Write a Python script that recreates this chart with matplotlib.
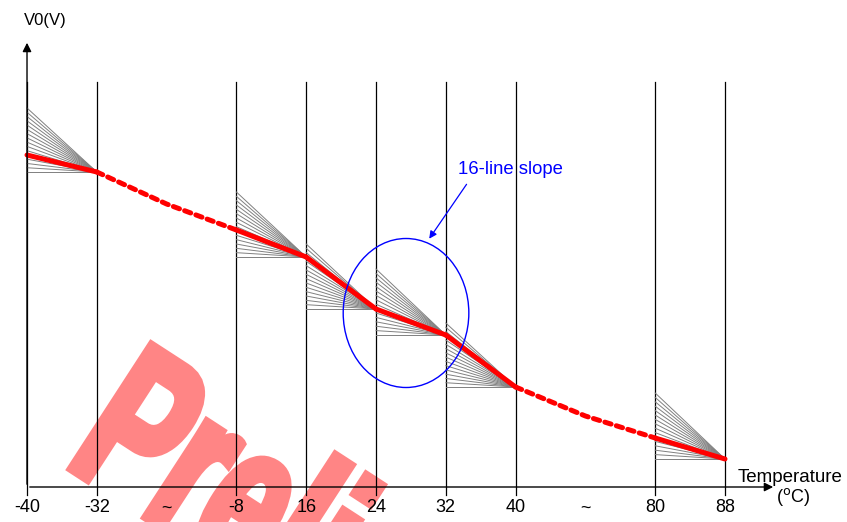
import numpy as np
import matplotlib
matplotlib.use('Agg')
import matplotlib.pyplot as plt
from matplotlib.patches import Ellipse, PathPatch
from matplotlib.textpath import TextPath
from matplotlib.font_manager import FontProperties
from matplotlib.transforms import Affine2D

plt.rcParams['font.family'] = ['Liberation Sans', 'DejaVu Sans']

# x categories (index positions along the broken temperature axis)
tick_labels = ['-40', '-32', '~', '-8', '16', '24', '32', '40', '~', '80', '88']
tick_pos = np.arange(len(tick_labels))
grid_pos = [0, 1, 3, 4, 5, 6, 7, 9, 10]     # where the vertical lines are

# V0 at each node (arbitrary units): x0, x1, v0, v1
v_solid = [(0, 1, 332, 315), (3, 4, 257, 230), (4, 5, 230, 178),
           (5, 6, 178, 152), (6, 7, 152, 100), (9, 10, 49, 28)]
# dashed (extrapolated) parts
dash1_x = [1, 2, 3]
dash1_y = [315, 283, 257]
dash2_x = [7, 8, 9]
dash2_y = [100, 71, 49]
# top of each 16-line fan on its left edge
fan_top = [379, 295, 243, 218, 164, 94]
n_lines = 16

fig = plt.figure(figsize=(8.47, 5.22), dpi=100)
ax = fig.add_axes([0, 0, 1, 1])
ax.set_xlim(-0.387, 11.748)
ax.set_ylim(-35, 487)
ax.axis('off')

# watermark, narrow heavy letters, behind everything
wm = TextPath((0, 0), 'Preliminary', size=214,
              prop=FontProperties(family='Liberation Sans', weight='bold'))
wm_tr = Affine2D().scale(0.62, 1.0).rotate_deg(-33).translate(64, 522 - 464)
ax.add_patch(PathPatch(wm, transform=wm_tr, facecolor='#ff8585',
                       edgecolor='#ff8585', lw=6.5, joinstyle='miter', zorder=0.5))

# vertical lines
for x in grid_pos:
    ax.plot([x, x], [-8, 405], color='black', lw=0.9, zorder=1)

# fans
for (x0, x1, y0, y1), top in zip(v_solid, fan_top):
    for yl in np.linspace(top, y1, n_lines):
        ax.plot([x0, x1], [yl, y1], color='#808080', lw=0.7, zorder=2)

# red curve
for x0, x1, y0, y1 in v_solid:
    ax.plot([x0, x1], [y0, y1], color='red', lw=3.6, solid_capstyle='round', zorder=3)
for xs, ys in [(dash1_x, dash1_y), (dash2_x, dash2_y)]:
    ax.plot(xs, ys, color='red', lw=3.6, dashes=(1.3, 1.1), dash_capstyle='round', zorder=3)

# axes with arrows
ax.annotate('', xy=(0, 447), xytext=(0, 0),
            arrowprops=dict(arrowstyle='-|>', color='black', lw=1, mutation_scale=13))
ax.annotate('', xy=(10.73, 0), xytext=(0, 0),
            arrowprops=dict(arrowstyle='-|>', color='black', lw=1, mutation_scale=13))

for x, lab in zip(tick_pos, tick_labels):
    ax.text(x, -21, lab, ha='center', va='center', fontsize=13, zorder=6)

ax.text(-0.04, 467, 'V0(V)', ha='left', va='center', fontsize=12)
ax.text(10.93, 9, 'Temperature', ha='center', va='center', fontsize=13.5)
ax.text(10.97, -10, '($^{\\rm o}$C)', ha='center', va='center', fontsize=13)

# annotation
ax.add_patch(Ellipse((5.43, 174), 1.8, 149, fill=False, edgecolor='blue', lw=1, zorder=4))
ax.text(6.17, 317, '16-line slope', color='blue', ha='left', va='center', fontsize=13.3)
ax.annotate('', xy=(5.74, 246), xytext=(6.32, 305),
            arrowprops=dict(arrowstyle='-|>', color='blue', lw=0.9, mutation_scale=11))

fig.savefig('out.png', dpi=100)
